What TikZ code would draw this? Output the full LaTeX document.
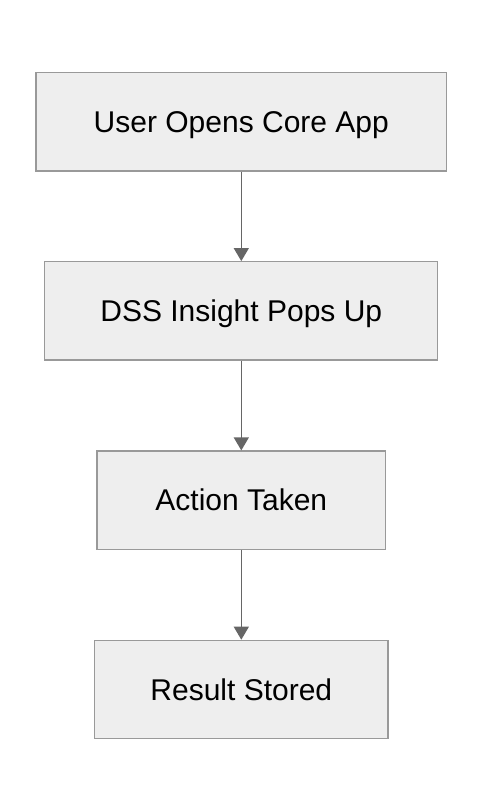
\documentclass[tikz,border=0pt]{standalone}
\usepackage{fontspec}
\setmainfont{Liberation Sans}
\usetikzlibrary{arrows.meta}
\definecolor{boxfill}{HTML}{EEEEEE}
\definecolor{boxline}{HTML}{999999}
\definecolor{arrowline}{HTML}{666666}
\begin{document}
\begin{tikzpicture}[x=1pt,y=-1pt,
  stepbox/.style={draw=boxline,fill=boxfill,line width=1.3pt,inner sep=0pt,
    text height=21pt,text depth=0pt,
    font=\fontsize{30}{36}\selectfont},
  flow/.style={draw=arrowline,line width=1.3pt,-{Triangle[length=13pt,width=15pt]}}]
\useasboundingbox (0,0) rectangle (482,812);
\node[stepbox,minimum width=410.7pt,minimum height=98.3pt] (a) at (241.3,121.9) {User Opens Core App};
\node[stepbox,minimum width=393pt,minimum height=98.3pt] (b) at (241.3,310.9) {DSS Insight Pops Up};
\node[stepbox,minimum width=288.4pt,minimum height=98.3pt] (c) at (241.3,500.2) {Action Taken};
\node[stepbox,minimum width=293.3pt,minimum height=98.3pt] (d) at (241.3,689.5) {Result Stored};
\draw[flow] (a) -- (b);
\draw[flow] (b) -- (c);
\draw[flow] (c) -- (d);
\end{tikzpicture}
\end{document}
